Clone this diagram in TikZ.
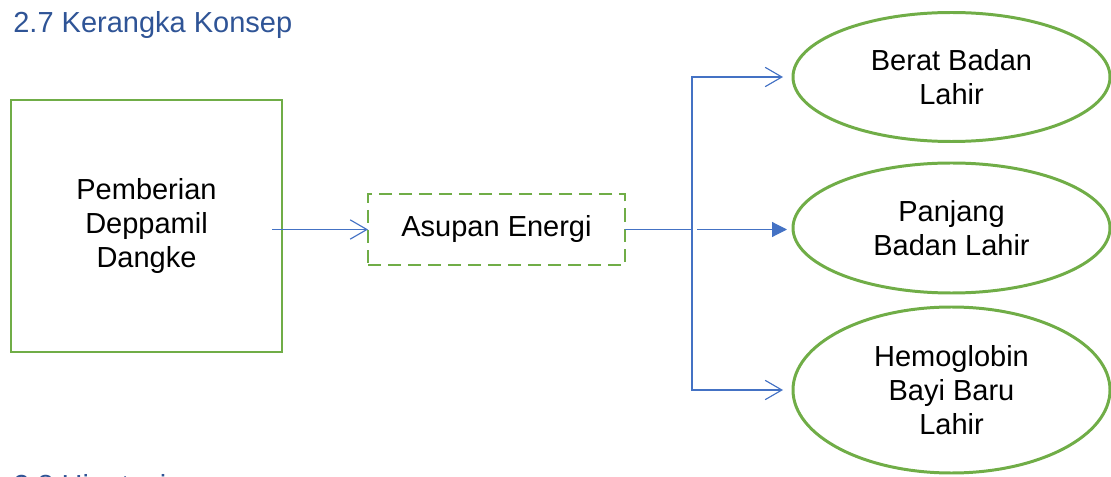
\documentclass[tikz,border=0pt]{standalone}
\usepackage{fontspec}
\setmainfont{Liberation Sans}
\usepackage{xcolor}
\usetikzlibrary{shapes.geometric,arrows.meta}
\definecolor{kgreen}{HTML}{70AD47}
\definecolor{kblue}{HTML}{4472C4}
\definecolor{ktitle}{HTML}{2F5496}
\tikzset{
  txt/.style={font=\fontsize{16.5}{19.3}\selectfont, align=center},
  greenbox/.style={txt, draw=kgreen, line width=1.7pt, inner sep=0pt, outer sep=0pt},
  dashbox/.style={greenbox, dash pattern=on 7.4pt off 4pt},
  oval/.style={greenbox, ellipse, minimum width=6.34cm},
  link/.style={draw=kblue, line width=0.65pt},
  openarrow/.style={link, -{Straight Barb[length=9.5pt,width=11pt]}},
  fullarrow/.style={link, -{Triangle[length=8.5pt,width=8.5pt]}}
}
\begin{document}
\begin{tikzpicture}
\useasboundingbox (0,0) rectangle (22.22,9.52);

% Headings
\node[txt, text=ktitle, anchor=base west, inner sep=0pt] (title) at (0.26,8.86) {2.7 Kerangka Konsep};
\node[txt, text=ktitle, anchor=base west, inner sep=0pt] (nexttitle) at (0.26,-0.38) {2.8 Hipotesis};

% Boxes
\node[greenbox, minimum width=5.42cm, minimum height=5.04cm] (pemberian) at (2.93,5.00) {Pemberian\\Deppamil\\Dangke};
\node[dashbox, minimum width=5.14cm, minimum height=1.42cm] (asupan) at (9.93,4.93) {\raisebox{0.16cm}{Asupan Energi}};

% Outcomes
\node[oval, minimum height=2.58cm] (berat) at (19.03,7.98) {Berat Badan\\Lahir};
\node[oval, minimum height=2.60cm] (panjang) at (19.03,4.96) {Panjang\\Badan Lahir};
\node[oval, minimum height=3.32cm] (hemo) at (19.03,1.72) {Hemoglobin\\Bayi Baru\\Lahir};

% Connectors
\coordinate (split) at (13.84,4.93);
\draw[openarrow] ([xshift=-0.2cm]asupan.west -| pemberian.east) -- (asupan.west);
\draw[link] (asupan.east) -- (split);
\draw[openarrow, shorten >=0.2cm] (split) |- (berat.west);
\draw[openarrow, shorten >=0.2cm] (split) |- (hemo.west);
\draw[fullarrow, shorten <=0.1cm, shorten >=0.12cm] (split) -- (split -| panjang.west);
\end{tikzpicture}
\end{document}
